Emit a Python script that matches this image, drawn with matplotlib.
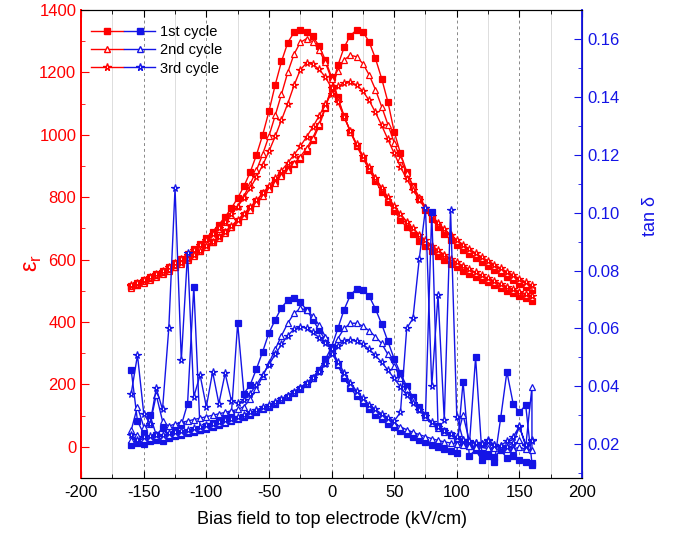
import matplotlib.pyplot as plt
from matplotlib.legend_handler import HandlerTuple
from matplotlib.lines import Line2D
from matplotlib.ticker import MultipleLocator

plt.rcParams['font.family'] = ['Liberation Sans', 'DejaVu Sans']
plt.rcParams['axes.unicode_minus'] = False

# bias field steps (kV/cm), -160 .. 160
bias = list(range(-160, 161, 5))

# permittivity, sweep up (-160 -> 160) and sweep down (listed by ascending field)
eps1_up = [512, 520, 528, 537, 546, 556, 566, 577, 589, 601, 614, 628, 642, 657, 672, 689,
           706, 724, 744, 765, 788, 812, 830, 852, 872, 890, 906, 922, 948, 982, 1028, 1085,
           1150, 1222, 1280, 1318, 1336, 1330, 1298, 1245, 1180, 1105, 1010, 940, 882, 835,
           795, 760, 730, 705, 683, 664, 647, 632, 618, 605, 592, 580, 568, 556, 545, 534,
           523, 513, 503]
eps1_down = [515, 524, 533, 543, 553, 564, 576, 589, 603, 618, 634, 651, 670, 690, 712, 737,
             765, 797, 835, 880, 935, 1000, 1075, 1160, 1235, 1295, 1328, 1335, 1330, 1315,
             1285, 1240, 1185, 1120, 1060, 1010, 965, 925, 888, 852, 818, 786, 756, 728, 703,
             681, 661, 643, 627, 612, 598, 586, 575, 564, 554, 545, 536, 527, 518, 509, 500,
             492, 484, 476, 467]
eps2_up = [510, 518, 526, 535, 544, 554, 564, 575, 587, 599, 612, 626, 640, 655, 670, 686,
           703, 721, 740, 760, 781, 803, 825, 847, 868, 888, 908, 930, 956, 990, 1035, 1090,
           1150, 1205, 1240, 1255, 1250, 1228, 1192, 1145, 1090, 1032, 975, 922, 876, 836,
           800, 769, 742, 718, 697, 678, 661, 645, 631, 617, 604, 591, 579, 567, 556, 545,
           534, 523, 512]
eps2_down = [514, 522, 531, 540, 550, 560, 571, 583, 596, 610, 625, 641, 658, 677, 697, 719,
             744, 772, 804, 842, 886, 938, 996, 1062, 1130, 1200, 1258, 1296, 1308, 1298,
             1272, 1232, 1178, 1115, 1058, 1010, 968, 930, 894, 860, 828, 798, 770, 744, 720,
             698, 678, 660, 643, 628, 614, 601, 589, 578, 567, 557, 547, 538, 529, 520, 512,
             504, 496, 488, 480]
eps3_up = [516, 523, 531, 539, 548, 557, 567, 578, 589, 601, 614, 628, 642, 657, 673, 690,
           708, 727, 747, 768, 790, 813, 836, 860, 885, 910, 936, 963, 993, 1025, 1060, 1098,
           1132, 1155, 1166, 1168, 1160, 1140, 1110, 1072, 1030, 985, 940, 897, 858, 823,
           792, 764, 739, 717, 697, 679, 663, 648, 634, 621, 608, 596, 584, 572, 561, 550,
           539, 528, 517]
eps3_down = [518, 526, 535, 544, 554, 565, 576, 588, 601, 615, 630, 646, 663, 681, 701, 722,
             745, 770, 798, 829, 864, 903, 947, 995, 1047, 1100, 1158, 1208, 1230, 1226,
             1210, 1185, 1150, 1105, 1058, 1012, 970, 932, 896, 862, 830, 800, 772, 746, 722,
             700, 680, 662, 645, 630, 616, 603, 591, 580, 569, 559, 549, 540, 531, 522, 513,
             505, 497, 490, 484]

# loss tangent, same layout
tan1_up = [0.0198, 0.0205, 0.0202, 0.0210, 0.0215, 0.0212, 0.0222, 0.0228, 0.0233, 0.0238,
           0.0243, 0.0248, 0.0254, 0.0260, 0.0266, 0.0272, 0.0279, 0.0286, 0.0294, 0.0302,
           0.0311, 0.0320, 0.0330, 0.0340, 0.0351, 0.0363, 0.0376, 0.0390, 0.0408, 0.0430,
           0.0458, 0.0493, 0.0535, 0.0600, 0.0665, 0.0715, 0.0737, 0.0733, 0.0712, 0.0668,
           0.0615, 0.0555, 0.0495, 0.0445, 0.0400, 0.0362, 0.0330, 0.0302, 0.1004, 0.0262,
           0.0246, 0.0232, 0.0219, 0.0207, 0.0195, 0.0500, 0.0170, 0.0160, 0.0139, 0.0289,
           0.0450, 0.0340, 0.0310, 0.0335, 0.0135]
tan1_down = [0.0456, 0.0280, 0.0235, 0.0300, 0.0232, 0.0255, 0.0230, 0.0248, 0.0265, 0.0340,
             0.0744, 0.0248, 0.0262, 0.0272, 0.0282, 0.0292, 0.0305, 0.0618, 0.0375, 0.0405,
             0.0460, 0.0520, 0.0585, 0.0630, 0.0672, 0.0697, 0.0704, 0.0690, 0.0665, 0.0630,
             0.0595, 0.0560, 0.0525, 0.0472, 0.0430, 0.0395, 0.0366, 0.0342, 0.0320, 0.0302,
             0.0286, 0.0271, 0.0258, 0.0246, 0.0235, 0.0225, 0.0215, 0.0206, 0.0198, 0.0190,
             0.0183, 0.0176, 0.0170, 0.0415, 0.0160, 0.0180, 0.0145, 0.0170, 0.0155, 0.0180,
             0.0152, 0.0160, 0.0145, 0.0140, 0.0128]
tan2_up = [0.0215, 0.0230, 0.0218, 0.0222, 0.0228, 0.0225, 0.0232, 0.0236, 0.0240, 0.0245,
           0.0250, 0.0255, 0.0260, 0.0266, 0.0272, 0.0278, 0.0285, 0.0292, 0.0300, 0.0308,
           0.0317, 0.0326, 0.0336, 0.0346, 0.0357, 0.0369, 0.0382, 0.0396, 0.0412, 0.0430,
           0.0452, 0.0482, 0.0520, 0.0565, 0.0600, 0.0618, 0.0618, 0.0608, 0.0592, 0.0572,
           0.0548, 0.0510, 0.0470, 0.0430, 0.0390, 0.0355, 0.0322, 0.0295, 0.0273, 0.0256,
           0.0242, 0.0230, 0.0220, 0.0300, 0.0212, 0.0205, 0.0200, 0.0198, 0.0195, 0.0193,
           0.0190, 0.0188, 0.0215, 0.0190, 0.0398]
tan2_down = [0.0248, 0.0330, 0.0260, 0.0268, 0.0370, 0.0280, 0.0262, 0.0270, 0.0275, 0.0280,
             0.0285, 0.0290, 0.0295, 0.0300, 0.0305, 0.0310, 0.0315, 0.0320, 0.0330, 0.0355,
             0.0392, 0.0435, 0.0480, 0.0528, 0.0575, 0.0618, 0.0652, 0.0669, 0.0664, 0.0642,
             0.0612, 0.0572, 0.0525, 0.0478, 0.0438, 0.0405, 0.0377, 0.0352, 0.0331, 0.0313,
             0.0297, 0.0283, 0.0271, 0.0260, 0.0250, 0.0241, 0.0233, 0.0226, 0.0219, 0.0213,
             0.0208, 0.0204, 0.0200, 0.0196, 0.0193, 0.0190, 0.0205, 0.0188, 0.0186, 0.0195,
             0.0184, 0.0183, 0.0190, 0.0182, 0.0180]
tan3_up = [0.0230, 0.0215, 0.0225, 0.0228, 0.0232, 0.0230, 0.0238, 0.0242, 0.0246, 0.0250,
           0.0255, 0.0260, 0.0265, 0.0270, 0.0276, 0.0282, 0.0288, 0.0295, 0.0302, 0.0310,
           0.0318, 0.0327, 0.0336, 0.0346, 0.0357, 0.0368, 0.0380, 0.0394, 0.0410, 0.0428,
           0.0450, 0.0478, 0.0510, 0.0538, 0.0555, 0.0560, 0.0556, 0.0545, 0.0528, 0.0507,
           0.0483, 0.0456, 0.0427, 0.0398, 0.0370, 0.0343, 0.0318, 0.0296, 0.0277, 0.0260,
           0.0246, 0.0234, 0.0224, 0.0216, 0.0209, 0.0203, 0.0198, 0.0215, 0.0196, 0.0193,
           0.0191, 0.0205, 0.0260, 0.0195, 0.0215]
tan3_down = [0.0375, 0.0508, 0.0306, 0.0270, 0.0393, 0.0320, 0.0600, 0.1085, 0.0490, 0.0860,
             0.0364, 0.0439, 0.0329, 0.0450, 0.0340, 0.0445, 0.0350, 0.0342, 0.0352, 0.0375,
             0.0405, 0.0440, 0.0475, 0.0510, 0.0545, 0.0575, 0.0598, 0.0606, 0.0602, 0.0588,
             0.0568, 0.0548, 0.0528, 0.0485, 0.0447, 0.0413, 0.0383, 0.0358, 0.0337, 0.0320,
             0.0305, 0.0292, 0.0280, 0.0310, 0.0600, 0.0635, 0.0840, 0.1015, 0.0400, 0.0716,
             0.0283, 0.1010, 0.0294, 0.0215, 0.0210, 0.0205, 0.0200, 0.0212, 0.0198, 0.0195,
             0.0210, 0.0225, 0.0262, 0.0198, 0.0212]

labels = ['1st cycle', '2nd cycle', '3rd cycle']
markers = ['s', '^', '*']
eps_data = [(eps1_up, eps1_down), (eps2_up, eps2_down), (eps3_up, eps3_down)]
tan_data = [(tan1_up, tan1_down), (tan2_up, tan2_down), (tan3_up, tan3_down)]

red = '#ff0000'
blue = '#1414e6'

fig = plt.figure(figsize=(6.76, 5.38), dpi=100)
ax = fig.add_axes([0.12, 0.1115, 0.741, 0.870])
ax2 = ax.twinx()

xs = bias + bias[::-1]
handles = []
for i in range(3):
    m = markers[i]
    ms = 5.5 if m == '*' else 4
    face_r = red if m == 's' else 'white'
    face_b = blue if m == 's' else 'white'
    up, down = eps_data[i]
    ax.plot(xs, up + down[::-1], color=red, lw=1, marker=m, ms=ms,
            mfc=face_r, mec=red, mew=0.9, zorder=3)
    up, down = tan_data[i]
    ax2.plot(xs, up + down[::-1], color=blue, lw=1, marker=m, ms=ms,
             mfc=face_b, mec=blue, mew=0.9, zorder=3)
    hr = Line2D([], [], color=red, lw=1, marker=m, ms=ms, mfc=face_r, mec=red)
    hb = Line2D([], [], color=blue, lw=1, marker=m, ms=ms, mfc=face_b, mec=blue)
    handles.append((hr, hb))

ax.set_xlim(-200, 200)
ax.set_ylim(-100, 1400)
ax2.set_ylim(0.0083, 0.1701)

ax.xaxis.set_major_locator(MultipleLocator(50))
ax.xaxis.set_minor_locator(MultipleLocator(25))
ax.yaxis.set_major_locator(MultipleLocator(200))
ax.yaxis.set_minor_locator(MultipleLocator(100))
ax2.yaxis.set_major_locator(MultipleLocator(0.02))
ax2.yaxis.set_minor_locator(MultipleLocator(0.01))
ax2.yaxis.set_major_formatter(plt.FormatStrFormatter('%.2f'))

ax.grid(True, which='major', axis='x', ls=(0, (3, 3)), color='#888888', lw=0.7)
ax.grid(True, which='minor', axis='x', ls='-', color='#dddddd', lw=0.7)
ax.set_axisbelow(True)

ax.tick_params(axis='x', which='both', direction='in', top=True, labelsize=12,
               colors='black', pad=5)
ax.tick_params(axis='x', which='major', length=5)
ax.tick_params(axis='x', which='minor', length=3)
ax.tick_params(axis='y', which='major', direction='in', length=6, colors=red, labelsize=12)
ax.tick_params(axis='y', which='minor', direction='in', length=3, colors=red)
ax2.tick_params(axis='y', which='major', direction='in', length=6, colors=blue, labelsize=12)
ax2.tick_params(axis='y', which='minor', direction='in', length=3, colors=blue)

ax.spines['left'].set_color(red)
ax.spines['left'].set_linewidth(1.3)
ax2.spines['left'].set_color(red)
ax2.spines['left'].set_linewidth(1.3)
ax2.spines['right'].set_color(blue)
ax2.spines['right'].set_linewidth(1.3)

ax.set_xlabel('Bias field to top electrode (kV/cm)', fontsize=13, labelpad=8)
ax.set_ylabel('ε$_\\mathregular{r}$', fontsize=17, color=red)
ax.yaxis.set_label_coords(-0.075, 0.46)
ax2.set_ylabel('tan δ', fontsize=13, color=blue)
ax2.yaxis.set_label_coords(1.12, 0.56)

ax2.legend(handles, labels, handler_map={tuple: HandlerTuple(ndivide=None, pad=0.1)},
           loc='upper left', bbox_to_anchor=(0.0, 0.99), frameon=False, fontsize=10.5,
           handlelength=4.4, handletextpad=0.3, labelspacing=0.3, borderaxespad=0.3)

fig.savefig('out.png', dpi=100)
